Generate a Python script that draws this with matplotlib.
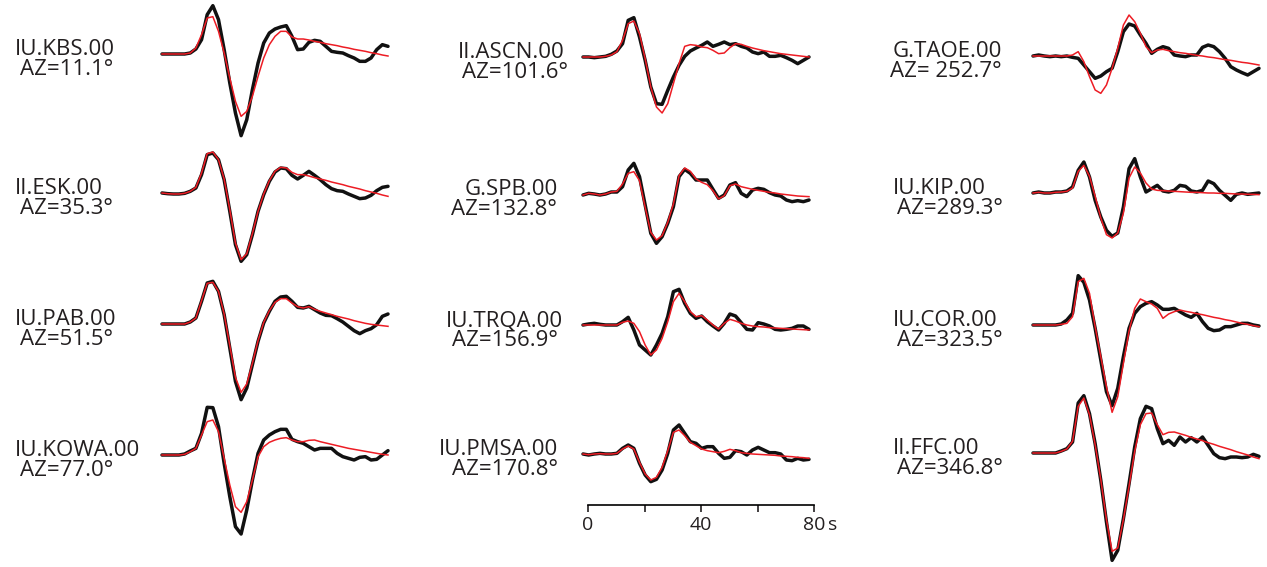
import numpy as np
import matplotlib.pyplot as plt

plt.rcParams['font.family'] = ['Open Sans', 'DejaVu Sans']

W, H = 1267, 567

# time axis (s), sampled every 2 s
t = np.arange(0, 81, 2)

# station names and azimuths (column by column)
stations = ['IU.KBS.00', 'II.ESK.00', 'IU.PAB.00', 'IU.KOWA.00',
            'II.ASCN.00', 'G.SPB.00', 'IU.TRQA.00', 'IU.PMSA.00',
            'G.TAOE.00', 'IU.KIP.00', 'IU.COR.00', 'II.FFC.00']
az_labels = ['AZ=11.1°', 'AZ=35.3°', 'AZ=51.5°', 'AZ=77.0°',
             'AZ=101.6°', 'AZ=132.8°', 'AZ=156.9°', 'AZ=170.8°',
             'AZ= 252.7°', 'AZ=289.3°', 'AZ=323.5°', 'AZ=346.8°']

# observed (black) and synthetic (red) waveforms, arbitrary amplitude units
obs_kbs = [0, 0, 0, 0, 0, 3, 15, 43, 118, 145, 103, 13, -87, -177, -245, -197, -107, -27, 33, 63,
           75, 81, 85, 53, 13, 15, 35, 41, 38, 23, 8, 5, 3, -5, -12, -22, -22, -12, 13, 28, 23]
syn_kbs = [0, 0, 0, 0, 0, 3, 18, 58, 108, 112, 68, 3, -72, -142, -187, -172, -127, -67, -12, 28,
           53, 68, 68, 51, 45, 45, 42, 38, 35, 31, 28, 25, 21, 18, 14, 11, 8, 4, 1, -3, -6]

obs_esk = [0, -2, -3, -3, -1, 5, 15, 55, 115, 120, 100, 40, -55, -155, -205, -185, -125, -55, -5, 35,
           63, 75, 73, 53, 42, 53, 65, 53, 40, 25, 13, 7, 5, -3, -10, -17, -15, -7, 7, 17, 20]
syn_esk = [0, -2, -3, -3, -1, 5, 17, 60, 118, 123, 100, 42, -50, -150, -200, -182, -122, -55, -3, 37,
           65, 77, 75, 62, 55, 55, 51, 46, 42, 38, 33, 29, 25, 20, 16, 12, 7, 3, -1, -6, -10]

obs_pab = [0, 0, 0, 0, 0, 6, 18, 68, 123, 128, 98, 28, -72, -172, -227, -192, -122, -52, 3, 38,
           68, 81, 83, 68, 50, 48, 53, 43, 33, 26, 25, 16, 6, -7, -20, -29, -20, -14, -2, 23, 30]
syn_pab = [0, 0, 0, 0, 0, 6, 18, 70, 122, 125, 98, 30, -65, -160, -205, -180, -118, -50, 5, 40,
           65, 76, 76, 63, 52, 48, 52, 44, 38, 33, 28, 23, 19, 15, 10, 6, 2, -1, -3, -5, -7]

obs_kowa = [0, 0, 0, 0, 3, 12, 20, 65, 143, 142, 85, -25, -125, -215, -237, -165, -75, 5, 45, 60,
            70, 77, 77, 47, 40, 35, 25, 15, 20, 20, 20, 5, -5, -10, -15, -7, -5, -15, -13, 0, 13]
syn_kowa = [0, 0, 0, 0, 2, 10, 20, 60, 100, 105, 70, -10, -90, -155, -172, -140, -75, -5, 25, 38,
            45, 50, 52, 45, 40, 40, 44, 45, 40, 36, 32, 28, 24, 20, 17, 14, 11, 8, 5, 2, 0]

obs_ascn = [0, 0, -2, 0, 2, 8, 18, 40, 110, 118, 60, -10, -90, -140, -142, -100, -60, -25, 2, 18,
            27, 35, 45, 32, 38, 45, 37, 40, 32, 27, 15, 10, 15, 2, 2, 5, -2, -10, -20, -10, 0]
syn_ascn = [0, 0, 0, 0, 2, 6, 16, 50, 100, 108, 70, -5, -90, -150, -168, -140, -80, -20, 32, 37,
            35, 30, 28, 20, 10, 12, 28, 40, 38, 32, 27, 23, 19, 16, 13, 10, 8, 6, 4, 2, 0]

obs_spb = [-3, 2, 0, -3, 0, 6, 6, 22, 72, 92, 52, -33, -118, -148, -128, -88, -38, 52, 74, 62,
           42, 42, 42, 14, -13, -3, 27, 34, 2, -8, 12, 17, 14, 4, -3, -6, -18, -23, -20, -23, -18]
syn_spb = [-3, 2, 0, -3, 0, 6, 8, 30, 62, 67, 40, -40, -115, -138, -125, -85, -30, 55, 78, 68,
           45, 35, 28, 10, -15, -5, 25, 30, 22, 18, 14, 11, 8, 5, 3, 0, -2, -4, -6, -7, -8]

obs_trqa = [0, 3, 5, 2, 0, 0, 0, 10, 23, -15, -60, -75, -90, -60, -25, 25, 100, 107, 65, 35,
            20, 27, 10, -3, -15, 5, 33, 27, 7, -13, -15, 7, 3, -3, -13, -15, -13, -10, -3, -3, -13]
syn_trqa = [0, 0, 0, 0, 0, 0, 0, 8, 12, 5, -20, -60, -90, -75, -40, 10, 70, 95, 70, 40,
            25, 28, 15, 0, -12, 5, 17, 12, 5, 0, -3, -5, -6, -8, -9, -10, -11, -12, -13, -14, -15]

obs_pmsa = [0, -3, 0, 2, 0, 0, 2, 17, 27, 17, -28, -63, -83, -76, -48, 2, 72, 87, 62, 37,
            32, 17, 22, 22, 2, -13, -10, 10, 7, -3, 12, 20, 12, 4, 4, 0, -18, -20, -13, -18, -16]
syn_pmsa = [0, -2, 0, 1, 0, 0, 2, 15, 24, 15, -25, -60, -78, -70, -40, 10, 65, 72, 55, 35,
            25, 15, 10, 7, 4, 8, 14, 10, 4, 2, 0, -1, -2, -3, -4, -6, -7, -8, -10, -11, -13]

obs_taoe = [0, 3, 0, -2, 0, -2, 0, -4, -7, -27, -47, -67, -60, -47, -37, 13, 73, 96, 90, 63,
            38, 8, 20, 28, 23, 3, 0, -2, 3, 3, 26, 33, 28, 13, -7, -32, -42, -50, -57, -47, -37]
syn_taoe = [0, 0, 0, 0, 0, 0, 0, 3, 13, -17, -62, -102, -112, -87, -37, 23, 93, 123, 103, 68,
            28, 10, 18, 20, 16, 13, 10, 8, 5, 2, 0, -3, -5, -8, -11, -13, -16, -19, -21, -24, -27]

obs_kip = [0, 3, 0, 0, 3, 3, 6, 18, 68, 93, 48, -22, -72, -112, -130, -120, -42, 73, 103, 48,
           3, 13, 23, 6, 3, 8, 23, 20, 6, 3, 8, 36, 28, 8, -7, -22, -4, 0, -4, -2, 0]
syn_kip = [0, 2, 0, 0, 2, 3, 5, 15, 65, 83, 50, -10, -75, -125, -135, -120, -60, 45, 78, 60,
           30, 12, 8, 7, 6, 5, 4, 3, 2, 2, 1, 0, 0, -1, -1, -2, -3, -3, -4, -4, -5]

obs_cor = [0, 0, 0, 0, 0, 3, 15, 35, 148, 128, 75, -10, -105, -200, -242, -190, -95, -10, 35, 55,
           65, 70, 60, 47, 47, 50, 40, 30, 23, 35, 10, -10, -17, -15, -5, -5, 0, 5, 5, 0, -3]
syn_cor = [0, 0, 0, 0, 0, 2, 5, 25, 130, 140, 95, -5, -95, -185, -262, -215, -115, -18, 50, 78,
           70, 63, 50, 20, 33, 40, 45, 41, 38, 34, 31, 27, 23, 20, 16, 13, 9, 5, 2, -2, -5]

obs_ffc = [0, 0, 0, 0, 0, 6, 13, 33, 150, 172, 118, 28, -82, -207, -322, -292, -197, -92, 18, 103,
           140, 133, 73, 28, 38, 23, 48, 33, 46, 33, 48, 23, -2, -14, -17, -12, -12, -14, -12, -4, -10]
syn_ffc = [0, 0, 0, 0, 0, 5, 12, 35, 140, 165, 115, 25, -80, -200, -295, -285, -200, -100, 5, 85,
           118, 120, 85, 55, 62, 63, 58, 53, 47, 42, 37, 31, 26, 20, 15, 10, 4, -1, -6, -12, -17]

observed = [obs_kbs, obs_esk, obs_pab, obs_kowa, obs_ascn, obs_spb, obs_trqa, obs_pmsa,
            obs_taoe, obs_kip, obs_cor, obs_ffc]
synthetic = [syn_kbs, syn_esk, syn_pab, syn_kowa, syn_ascn, syn_spb, syn_trqa, syn_pmsa,
             syn_taoe, syn_kip, syn_cor, syn_ffc]

# layout in pixels
trace_x0 = [162] * 4 + [583] * 4 + [1033] * 4
baseline_y = [54, 193, 324, 455, 57, 194, 325, 454, 56, 193, 325, 453]
# label anchors: columns 1 and 3 left aligned, column 2 right aligned
name_x = [15, 15, 15, 15, 565, 558, 563, 558, 893, 893, 893, 893]
az_x = [20, 20, 20, 20, 568, 557, 558, 558, 890, 897, 897, 897]
label_ha = ['left'] * 4 + ['right'] * 4 + ['left'] * 4
trace_w = 226      # px for 80 s
amp_per_px = 3.0   # amplitude units per pixel
lo, hi = -360, 200

fig = plt.figure(figsize=(W / 100, H / 100), dpi=100)
fig.patch.set_facecolor('white')

for i in range(len(stations)):
    bottom = H - baseline_y[i] + lo / amp_per_px
    ax = fig.add_axes([trace_x0[i] / W, bottom / H, trace_w / W,
                       (hi - lo) / amp_per_px / H])
    ax.set_xlim(0, 80)
    ax.set_ylim(lo, hi)
    ax.axis('off')
    ax.patch.set_alpha(0)
    ax.plot(t, observed[i], color='#111111', lw=2.5, solid_joinstyle='round',
            solid_capstyle='round', clip_on=False)
    ax.plot(t, synthetic[i], color='#ed1c24', lw=1.1, clip_on=False)

    fig.text(name_x[i] / W, 1 - (baseline_y[i] + 1) / H, stations[i],
             fontsize=16, va='baseline', ha=label_ha[i], color='#231f20')
    fig.text(az_x[i] / W, 1 - (baseline_y[i] + 21) / H, az_labels[i],
             fontsize=16, va='baseline', ha=label_ha[i], color='#231f20')

# time scale bar
sax = fig.add_axes([588 / W, (H - 505) / H, 226 / W, 0.001])
sax.set_xlim(0, 80)
sax.set_yticks([])
for s in ['top', 'left', 'right']:
    sax.spines[s].set_visible(False)
sax.spines['bottom'].set_linewidth(1.2)
sax.set_xticks([0, 20, 40, 60, 80])
sax.set_xticklabels(['0', '', '40', '', '80'])
sax.tick_params(axis='x', direction='out', length=5, width=1.2, pad=3,
                labelsize=14, colors='#231f20')
sax.annotate('s', xy=(80, 0), xycoords=('data', 'axes fraction'),
             xytext=(10, -8), textcoords='offset points', fontsize=14,
             va='top', ha='left', color='#231f20')
sax.patch.set_alpha(0)

fig.savefig('out.png', dpi=100)
